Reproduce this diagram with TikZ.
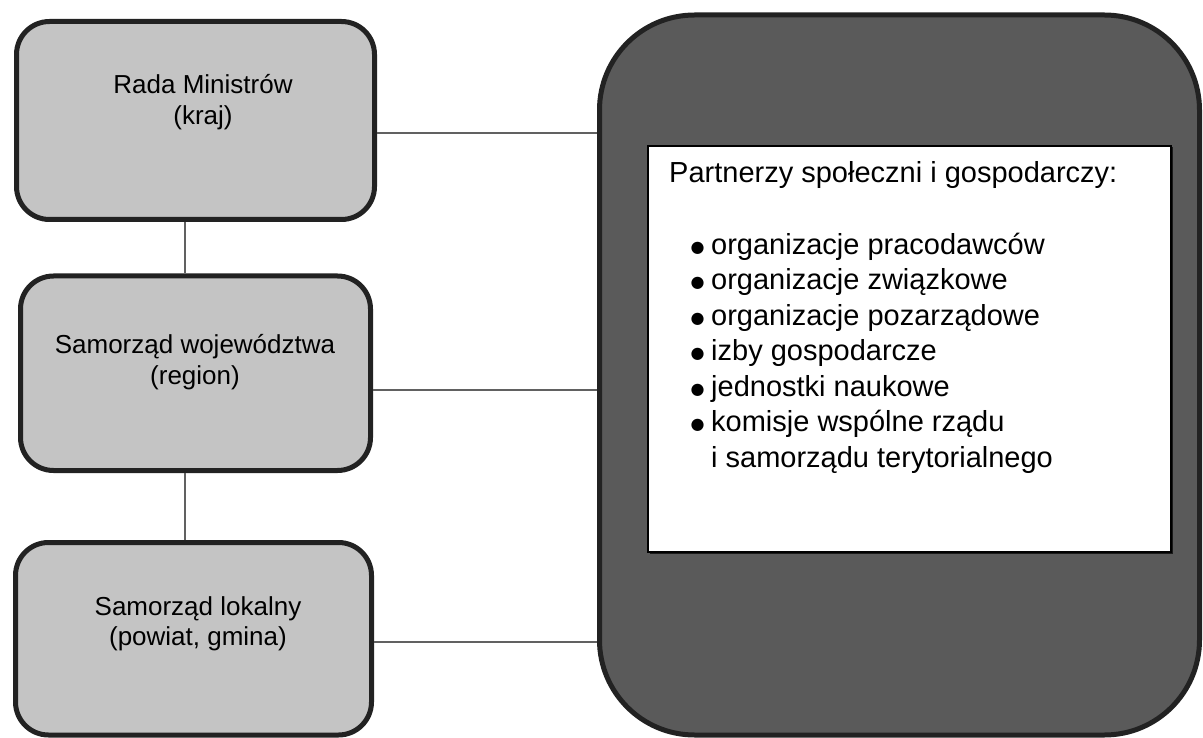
\documentclass[tikz,border=0pt]{standalone}
\usepackage{fontspec}
\setmainfont{Liberation Sans}
\newfontfamily\symfont{DejaVu Sans}
\usetikzlibrary{shadows}
\definecolor{boxfill}{HTML}{C4C4C4}
\definecolor{boxline}{HTML}{222222}
\definecolor{bigfill}{HTML}{5A5A5A}
\definecolor{conncol}{HTML}{616161}
\newcommand{\bigbul}{\makebox[20.5pt][l]{\raisebox{2pt}{\symfont\fontsize{16}{16}\selectfont ●}}}
\begin{document}
\begin{tikzpicture}[x=1pt,y=-1pt,
  levelbox/.style={draw=boxline, line width=5pt, fill=boxfill, rounded corners=33pt, inner sep=0pt},
  bigbox/.style={draw=boxline, line width=5pt, fill=bigfill, rounded corners=95pt, inner sep=0pt},
  listbox/.style={draw=black, line width=1.8pt, fill=white, inner sep=0pt,
    drop shadow={shadow xshift=1.5pt, shadow yshift=-1.5pt, opacity=0.7, fill=black}},
  leveltext/.style={align=center, font=\fontsize{26}{30.5}\selectfont, inner sep=0pt, text=black},
  listtext/.style={align=left, font=\fontsize{29}{35.5}\selectfont, inner sep=0pt, text=black},
  connector/.style={draw=conncol, line width=2pt}]
\useasboundingbox[fill=white] (0,0) rectangle (1203,738);
% boxes
\node[levelbox, minimum width=358pt, minimum height=198pt] (rada) at (195.5,120.5) {};
\node[levelbox, minimum width=350pt, minimum height=194.5pt] (woj) at (195.5,373.25) {};
\node[levelbox, minimum width=356pt, minimum height=192.5pt] (lok) at (193.5,638.75) {};
\node[bigbox, minimum width=600pt, minimum height=720pt] (part) at (899.5,375) {};
\node[listbox, minimum width=523pt, minimum height=406pt] (lista) at (909.5,349) {};
% connectors
\draw[connector] (rada.south -| 185,0) -- (woj.north -| 185,0);
\draw[connector] (woj.south -| 185,0) -- (lok.north -| 185,0);
\draw[connector] (rada.east |- 0,133) -- (part.west |- 0,133);
\draw[connector] (woj.east |- 0,390) -- (part.west |- 0,390);
\draw[connector] (lok.east |- 0,642) -- (part.west |- 0,642);
% texts (base anchor = baseline of the last line)
\node[leveltext, anchor=base] (radaT) at (203,124.5) {Rada Ministrów\\(kraj)};
\node[leveltext, anchor=base] (wojT) at (195,384) {Samorząd województwa\\(region)};
\node[leveltext, anchor=base] (lokT) at (198,645.5) {Samorząd lokalny\\(powiat, gmina)};
\node[listtext, anchor=base west] (head) at (669,183) {Partnerzy społeczni i gospodarczy:};
\node[listtext, anchor=base west] (items) at (690.5,467) {%
\bigbul organizacje pracodawców\\
\bigbul organizacje związkowe\\
\bigbul organizacje pozarządowe\\
\bigbul izby gospodarcze\\
\bigbul jednostki naukowe\\
\bigbul komisje wspólne rządu\\
\hspace*{20.5pt}i samorządu terytorialnego};
\end{tikzpicture}
\end{document}
